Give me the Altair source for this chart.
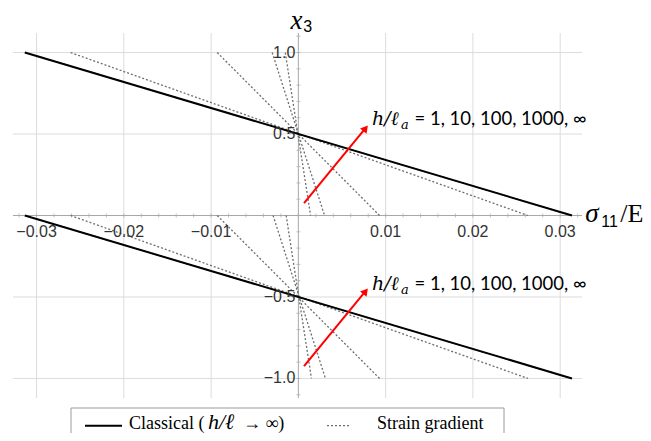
import altair as alt
import pandas as pd
import numpy as np

# ---------------- data ----------------
series_names = ["1", "10", "100", "1000", "∞"]
# strain-gradient lines, upper half: sigma/E at x3=1 and at x3=0
sg_upper_at_top = [-0.0015, -0.0030, -0.0093, -0.0261, -0.0313]
sg_upper_at_mid = [0.0014, 0.0030, 0.0093, 0.0263, 0.0313]
# strain-gradient lines, lower half: sigma/E at x3=0 and at x3=-1
sg_lower_at_mid = [-0.0014, -0.0029, -0.0093, -0.0261, -0.0313]
sg_lower_at_bot = [0.0015, 0.0031, 0.0093, 0.0263, 0.0313]
# classical solution endpoints
cl_upper = [-0.03135, 0.03135]   # at x3 = 1, x3 = 0
cl_lower = [-0.03135, 0.03135]   # at x3 = 0, x3 = -1

x_major = [-0.03, -0.02, -0.01, 0.01, 0.02, 0.03]
x_major_labels = ["−0.03", "−0.02", "−0.01", "0.01", "0.02", "0.03"]
y_major = [1.0, 0.5, -0.5, -1.0]
y_major_labels = ["1.0", "0.5", "−0.5", "−1.0"]
x_minor = [round(v, 3) for v in np.arange(-0.032, 0.0321, 0.002)]
y_minor = [round(v, 1) for v in np.arange(-1.1, 1.11, 0.1)]

arrow_x0 = [0.00065, 0.00065]
arrow_y0 = [0.076, -0.924]
arrow_x1 = [0.0076, 0.0076]
arrow_y1 = [0.53, -0.47]
head_x = [0.0077, 0.0077]
head_y = [0.535, -0.465]
ann_x = [0.00845, 0.00845]
ann_eq_x = [0.0133, 0.0133]
ann_y = [0.556, -0.46]

KIND_CL = "Classical ( h/ℓ → ∞)"
KIND_SG = "Strain gradient"

# ---------------- tables ----------------
rows = []
for i, s in enumerate(series_names):
    rows += [
        dict(kind=KIND_SG, grp=f"sg{s}u", order=0, x=sg_upper_at_top[i], y=1.0),
        dict(kind=KIND_SG, grp=f"sg{s}u", order=1, x=sg_upper_at_mid[i], y=0.0),
        dict(kind=KIND_SG, grp=f"sg{s}l", order=0, x=sg_lower_at_mid[i], y=0.0),
        dict(kind=KIND_SG, grp=f"sg{s}l", order=1, x=sg_lower_at_bot[i], y=-1.0),
    ]
rows += [
    dict(kind=KIND_CL, grp="clu", order=0, x=cl_upper[0], y=1.0),
    dict(kind=KIND_CL, grp="clu", order=1, x=cl_upper[1], y=0.0),
    dict(kind=KIND_CL, grp="cll", order=0, x=cl_lower[0], y=0.0),
    dict(kind=KIND_CL, grp="cll", order=1, x=cl_lower[1], y=-1.0),
]
lines_df = pd.DataFrame(rows)

W, H = 569, 365
xs = alt.Scale(domain=[-0.0327, 0.0325], nice=False, zero=False)
ys = alt.Scale(domain=[-1.12, 1.12], nice=False, zero=False)

def X(f):
    return alt.X(f, type="quantitative", scale=xs, axis=None)

def Y(f):
    return alt.Y(f, type="quantitative", scale=ys, axis=None)

GRID = "#dcdcdc"
AX = "#a8a8a8"

gridx = alt.Chart(pd.DataFrame({"x": x_major})).mark_rule(color=GRID, strokeWidth=1).encode(x=X("x"))
gridy = alt.Chart(pd.DataFrame({"y": y_major})).mark_rule(color=GRID, strokeWidth=1).encode(y=Y("y"))
axx = alt.Chart(pd.DataFrame({"y": [0.0]})).mark_rule(color=AX, strokeWidth=1).encode(y=Y("y"))
axy = alt.Chart(pd.DataFrame({"x": [0.0]})).mark_rule(color=AX, strokeWidth=1).encode(x=X("x"))

minx = alt.Chart(pd.DataFrame({"x": x_minor, "y": [0.0] * len(x_minor)})).mark_tick(
    orient="vertical", size=4, thickness=1, color=AX).encode(x=X("x"), y=Y("y"))
miny = alt.Chart(pd.DataFrame({"y": y_minor, "x": [0.0] * len(y_minor)})).mark_tick(
    orient="horizontal", size=4, thickness=1, color=AX).encode(x=X("x"), y=Y("y"))

xlab = alt.Chart(pd.DataFrame({"x": x_major, "y": [0.0] * 6, "t": x_major_labels})).mark_text(
    font="Liberation Sans", fontSize=16, color="#333", dy=16, baseline="middle", align="center"
).encode(x=X("x"), y=Y("y"), text="t:N")
ylab = alt.Chart(pd.DataFrame({"y": y_major, "x": [0.0] * 4, "t": y_major_labels})).mark_text(
    font="Liberation Sans", fontSize=16, color="#333", dx=-3, baseline="middle", align="right"
).encode(x=X("x"), y=Y("y"), text="t:N")

sg = alt.Chart(lines_df[lines_df.kind == KIND_SG]).mark_line(
    color="#6e6e6e", strokeDash=[2, 2], strokeWidth=1.3
).encode(x=X("x"), y=Y("y"), detail="grp:N", order="order:Q")
cl = alt.Chart(lines_df[lines_df.kind == KIND_CL]).mark_line(
    color="black", strokeWidth=2
).encode(x=X("x"), y=Y("y"), detail="grp:N", order="order:Q")

arr_df = pd.DataFrame({"x0": arrow_x0, "y0": arrow_y0, "x1": arrow_x1, "y1": arrow_y1,
                       "hx": head_x, "hy": head_y})
arrows = alt.Chart(arr_df).mark_rule(color="red", strokeWidth=2).encode(
    x=X("x0"), y=Y("y0"), x2="x1:Q", y2="y1:Q")
heads = alt.Chart(arr_df).mark_point(shape="triangle-up", filled=True, color="red", opacity=1,
                                      size=70, angle=39).encode(x=X("hx"), y=Y("hy"))

ann_df = pd.DataFrame({"x": ann_x, "x2": ann_eq_x, "y": ann_y})
ann1 = alt.Chart(ann_df).mark_text(font="DejaVu Serif", fontStyle="italic", fontSize=19,
                                   align="left", baseline="alphabetic", color="black").encode(
    x=X("x"), y=Y("y"), text=alt.value("h/ℓ"))
ann1b = alt.Chart(ann_df).mark_text(font="DejaVu Serif", fontStyle="italic", fontSize=13,
                                    align="left", baseline="alphabetic", color="black", dx=29, dy=4).encode(
    x=X("x"), y=Y("y"), text=alt.value("a"))
ann2 = alt.Chart(ann_df).mark_text(font="Lato", fontSize=18.5, align="left", baseline="alphabetic",
                                   color="black").encode(
    x=X("x2"), y=Y("y"), text=alt.value("= 1, 10, 100, 1000, ∞"))

# axis titles  x3 (vertical axis) and sigma11/E (horizontal axis)
t_df = pd.DataFrame({"x": [0.0, 0.03288], "y": [1.146, -0.039]})
xt_main = alt.Chart(t_df.iloc[[0]]).mark_text(font="Liberation Serif", fontStyle="italic", fontSize=27,
                                              align="center", baseline="alphabetic", color="black", dx=-2).encode(
    x=X("x"), y=Y("y"), text=alt.value("x"))
xt_sub = alt.Chart(t_df.iloc[[0]]).mark_text(font="Liberation Sans", fontSize=16,
                                             align="left", baseline="alphabetic", color="black", dx=5, dy=3).encode(
    x=X("x"), y=Y("y"), text=alt.value("3"))
st_main = alt.Chart(t_df.iloc[[1]]).mark_text(font="Liberation Serif", fontStyle="italic", fontSize=27,
                                              align="left", baseline="alphabetic", color="black").encode(
    x=X("x"), y=Y("y"), text=alt.value("σ"))
st_sub = alt.Chart(t_df.iloc[[1]]).mark_text(font="Liberation Sans", fontSize=16,
                                             align="left", baseline="alphabetic", color="black", dx=16, dy=5).encode(
    x=X("x"), y=Y("y"), text=alt.value("11"))
st_rest = alt.Chart(t_df.iloc[[1]]).mark_text(font="Liberation Serif", fontSize=26,
                                              align="left", baseline="alphabetic", color="black", dx=35).encode(
    x=X("x"), y=Y("y"), text=alt.value("/E"))

# ---------------- legend (decoration) ----------------
one = alt.Data(values=[{"a": 1}])
LY = 392.7
LB = 396
leg_box = alt.Chart(one).mark_rect(fill="white", stroke="#9a9a9a", strokeWidth=1).encode(
    x=alt.value(58), x2=alt.value(491), y=alt.value(375), y2=alt.value(430))
leg_l1 = alt.Chart(one).mark_rule(color="black", strokeWidth=2).encode(
    x=alt.value(72), x2=alt.value(109), y=alt.value(LY), y2=alt.value(LY))
leg_l2 = alt.Chart(one).mark_rule(color="#6e6e6e", strokeWidth=1.3, strokeDash=[2, 2]).encode(
    x=alt.value(314), x2=alt.value(337), y=alt.value(LY), y2=alt.value(LY))
def ltxt(x, t, style="normal", size=18):
    return alt.Chart(one).mark_text(font="Liberation Serif", fontSize=size, fontStyle=style,
                                    align="left", baseline="alphabetic", color="black").encode(
        x=alt.value(x), y=alt.value(LB), text=alt.value(t))
leg_t1 = ltxt(116, "Classical (")
leg_t2 = ltxt(195, "h/ℓ", "italic", 22)
leg_t3 = ltxt(230, "→ ∞)")
leg_t4 = ltxt(364, KIND_SG)

chart = alt.layer(
    gridx, gridy, axx, axy, minx, miny, sg, cl, arrows, heads, ann1, ann1b, ann2,
    xlab, ylab, xt_main, xt_sub, st_main, st_sub, st_rest,
    leg_box, leg_l1, leg_l2, leg_t1, leg_t2, leg_t3, leg_t4
).properties(
    width=W, height=H,
    autosize=alt.AutoSizeParams(type="none"),
    padding={"left": 5, "top": 25, "right": 61, "bottom": 35},
    background="white",
).configure_view(stroke=None)

chart.save("out.html", embed_options={"renderer": "svg", "actions": False})
